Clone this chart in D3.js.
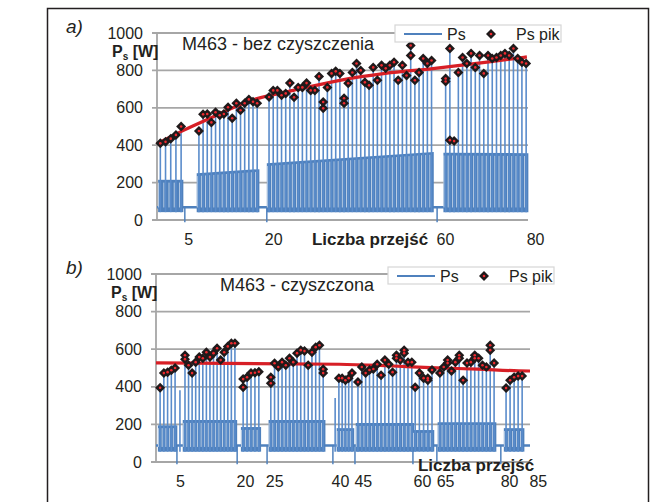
<!DOCTYPE html>
<html>
<head>
<meta charset="utf-8">
<script src="https://cdn.jsdelivr.net/npm/d3@7"></script>
<style>
  body { margin: 0; background: #fff; }
  text { font-family: "Liberation Sans", Arial, sans-serif; fill: #231f20; }
</style>
</head>
<body>
<svg id="chart" width="656" height="502"></svg>
<script>
// time axis runs 0..100 (share of the recording), power in W

// ---- a) M463 - bez czyszczenia ----
var aSegStart = [0.9, 11.3, 30.2, 77.8];
var aSegEnd = [6.5, 27.0, 74.0, 99.5];
var aPlateau = [[215, 215], [250, 272], [304, 364], [360, 357]];
var aPeaks = [
  [410, 418, 435, 455, 500],
  [476, 565, 567, 522, 576, 560, 567, 603, 544, 624, 587, 624, 645, 632, 624],
  [658, 693, 693, 667, 677, 732, 656, 709, 709, 732, 693, 693, 768, [631, 597], 709, 784, 795, 784,
   [651, 624], 731, 789, 837, 800, 736, 720, 816, 747, 827, 811, 827, 844, 747, 827, 773, [933, 880], 747, 789, 864, 837, 853],
  [[757, 741], [917, 427], 422, 789, 869, 837, 891, 816, 880, 784, 880, 864, 869, 880, 891, 880, 917, 864, 843, 837]
];
var aLone = [];
var aDrops = [7.5, 29.6, 75.5];
var aTrendT = [0, 7, 14.3, 25.1, 36.7, 49.3, 61.5, 74.9, 88.4, 99.7];
var aTrendV = [408, 478, 544, 638, 693, 747, 784, 811, 843, 872];
var aBase = 68, aFloor = 42;
var aTickPos = [8.4, 31.3, 77.6, 101.9];
var aTickLab = ["5", "20", "60", "80"];

// ---- b) M463 - czyszczona ----
var bSegStart = [1.1, 7.75, 23.3, 30.7, 48.9, 54.0, 69.3, 75.9, 93.6];
var bSegEnd = [5.1, 21.1, 27.5, 44.7, 52.4, 68.4, 73.8, 90.4, 97.9];
var bPlateau = [[195, 195], [223, 223], [186, 186], [223, 223], [180, 180], [207, 207], [170, 170], [212, 212], [180, 180]];
var bPeaks = [
  [395, 473, 478, 488, 500],
  [[568, 547], 515, 473, 531, 558, 552, 584, 558, 579, 605, 542, 584, 615, 632, 632],
  [[441, 398], 451, 473, 475, 480],
  [[451, 419], 525, 505, 531, 515, 552, 531, 579, 595, 590, 515, 584, 611, 621, [494, 473]],
  [446, 446, 435, 446, 473],
  [425, 505, 473, 489, 495, 520, 462, 542, 520, 478, [568, 552], 542, [595, 579], 531, 531],
  [398, 473, 446, [446, 435], 489],
  [473, 505, [542, 526], 484, 531, [568, 552], 435, 526, 531, [568, 552], 552, 515, 505, [621, 595], 526],
  [393, 435, 451, 457, 457]
];
var bLone = [[6.4, 382], [47.9, 340]];
var bDrops = [5.6, 21.7, 29.7, 47.3, 53.2, 68.7, 75.1, 92.2];
var bTrendT = [0, 49, 62, 75, 86, 97, 100];
var bTrendV = [527, 520, 512, 501, 494, 485, 484];
var bBase = 88, bFloor = 55;
var bTickPos = [6.4, 23.8, 31.6, 49.2, 55.3, 71.1, 77.3, 94.4, 102.1];
var bTickLab = ["5", "20", "25", "40", "45", "60", "65", "80", "85"];

var yTicks = [0, 200, 400, 600, 800, 1000];

var blue = "#4f81bd", red = "#d71f26", grid = "#a6a6a6";

var svg = d3.select("#chart");

// outer frame
svg.append("rect")
  .attr("x", 47.5).attr("y", 8.5)
  .attr("width", 601).attr("height", 520)
  .attr("fill", "none").attr("stroke", "#231f20").attr("stroke-width", 1.5);

function drawPanel(p) {
  var x = d3.scaleLinear().domain([0, 100]).range([p.left, p.right]);
  var y = d3.scaleLinear().domain([0, 1000]).range([p.bottom, p.top]);
  var g = svg.append("g");

  // grid lines + y labels
  g.selectAll(".grid").data(yTicks).enter().append("line")
    .attr("x1", p.left - 5).attr("x2", p.right)
    .attr("y1", function(d) { return y(d); }).attr("y2", function(d) { return y(d); })
    .attr("stroke", grid).attr("stroke-width", 1.8);
  g.append("line")
    .attr("x1", p.left).attr("x2", p.left)
    .attr("y1", y(0)).attr("y2", y(1000))
    .attr("stroke", grid).attr("stroke-width", 1.8);
  g.selectAll(".ylab").data(yTicks).enter().append("text")
    .attr("x", p.left - 14).attr("y", function(d) { return y(d) + 5.5; })
    .attr("text-anchor", "end").attr("font-size", 16)
    .text(function(d) { return d; });

  // baseline of the signal
  g.append("path")
    .datum([0, 100])
    .attr("d", d3.line().x(function(d) { return x(d); }).y(y(p.base)))
    .attr("stroke", blue).attr("stroke-width", 2.5).attr("fill", "none");

  // plateau blocks
  var area = d3.area()
    .x(function(d) { return x(d[0]); })
    .y0(y(p.floor))
    .y1(function(d) { return y(d[1]); });
  p.segStart.forEach(function(s, i) {
    var e = p.segEnd[i], pl = p.plateau[i];
    g.append("path")
      .datum([[s - 0.6, pl[0]], [e + 0.6, pl[1]]])
      .attr("d", area)
      .attr("fill", blue);
  });

  // drops to zero between blocks
  g.selectAll(".drop").data(p.drops).enter().append("line")
    .attr("x1", function(d) { return x(d); }).attr("x2", function(d) { return x(d); })
    .attr("y1", y(p.base)).attr("y2", y(-12))
    .attr("stroke", blue).attr("stroke-width", 1.5);

  // pulses
  var pulses = [];
  p.segStart.forEach(function(s, i) {
    var e = p.segEnd[i], pk = p.peaks[i], n = pk.length, pl = p.plateau[i];
    pk.forEach(function(v, j) {
      var vals = [].concat(v), f = j / (n - 1);
      pulses.push({ t: s + (e - s) * f, vals: vals, top: d3.max(vals),
                    plat: pl[0] + (pl[1] - pl[0]) * f });
    });
  });
  p.lone.forEach(function(d) { pulses.push({ t: d[0], vals: [], top: d[1], plat: 0 }); });

  // thin dips inside the blocks, next to each pulse
  g.selectAll(".slit").data(pulses.filter(function(d) { return d.plat > 0; })).enter().append("line")
    .attr("x1", function(d) { return x(d.t) - 1.7; }).attr("x2", function(d) { return x(d.t) - 1.7; })
    .attr("y1", y(p.floor + 25)).attr("y2", function(d) { return y(d.plat - 15); })
    .attr("stroke", "#fff").attr("stroke-width", 0.8).attr("opacity", 0.75);

  g.selectAll(".pulse").data(pulses).enter().append("line")
    .attr("x1", function(d) { return x(d.t); }).attr("x2", function(d) { return x(d.t); })
    .attr("y1", y(p.floor)).attr("y2", function(d) { return y(d.top); })
    .attr("stroke", "#5a8ccb").attr("stroke-width", 1.6);

  // trend line
  var trend = p.trendT.map(function(t, i) { return [t, p.trendV[i]]; });
  g.append("path")
    .datum(trend)
    .attr("d", d3.line().x(function(d) { return x(d[0]); }).y(function(d) { return y(d[1]); }).curve(d3.curveMonotoneX))
    .attr("fill", "none").attr("stroke", red).attr("stroke-width", 3.2);

  // peak markers
  var marks = [];
  pulses.forEach(function(d) { d.vals.forEach(function(v) { marks.push([d.t, v]); }); });
  var sq = d3.symbol().type(d3.symbolSquare).size(50);
  g.selectAll(".mk").data(marks).enter().append("path")
    .attr("d", sq)
    .attr("transform", function(d) { return "translate(" + x(d[0]) + "," + y(d[1]) + ") rotate(45)"; })
    .attr("fill", "#1f1a1b");
  g.selectAll(".mkc").data(marks).enter().append("circle")
    .attr("cx", function(d) { return x(d[0]); }).attr("cy", function(d) { return y(d[1]); })
    .attr("r", 1.3).attr("fill", "#ee2a2f");

  // x labels
  var xAxis = d3.axisBottom(x).tickValues(p.tickPos)
    .tickFormat(function(d, i) { return p.tickLab[i]; })
    .tickSize(0).tickPadding(14);
  var ax = g.append("g").attr("transform", "translate(0," + y(0) + ")").call(xAxis);
  ax.select(".domain").remove();
  ax.selectAll("text").attr("font-size", 16).attr("fill", "#231f20")
    .style("font-family", "'Liberation Sans', Arial, sans-serif");

  g.append("text")
    .attr("x", p.xTitle[0]).attr("y", p.xTitle[1])
    .attr("text-anchor", "middle").attr("font-size", 17).attr("font-weight", "bold")
    .text("Liczba przejść");

  // y title
  var yt = g.append("text").attr("x", p.left - 45).attr("y", p.top + 24)
    .attr("font-size", 16).attr("font-weight", "bold");
  yt.append("tspan").text("P");
  yt.append("tspan").attr("font-size", 10).attr("dy", 3).text("s");
  yt.append("tspan").attr("dy", -3).text(" [W]");

  // panel letter and title
  g.append("text").attr("x", 66).attr("y", p.top)
    .attr("font-size", 19).attr("font-style", "italic").text(p.letter);
  g.append("text").attr("x", p.titleX).attr("y", p.top + 17)
    .attr("font-size", 18).text(p.title);

  // legend
  var lg = g.append("g").attr("transform", "translate(" + p.legend[0] + "," + p.legend[1] + ")");
  lg.append("rect").attr("x", 0).attr("y", 0).attr("width", 166).attr("height", 17)
    .attr("fill", "#fff").attr("stroke", "#d6d6d6").attr("stroke-width", 1.2);
  lg.append("line").attr("x1", 9).attr("x2", 47).attr("y1", 9).attr("y2", 9)
    .attr("stroke", blue).attr("stroke-width", 2);
  lg.append("text").attr("x", 52).attr("y", 15).attr("font-size", 16).text("Ps");
  lg.append("path").attr("d", sq).attr("transform", "translate(96,9) rotate(45)").attr("fill", "#1f1a1b");
  lg.append("circle").attr("cx", 96).attr("cy", 9).attr("r", 1.3).attr("fill", "#ee2a2f");
  lg.append("text").attr("x", 121).attr("y", 15).attr("font-size", 16).text("Ps pik");
}

drawPanel({
  left: 157, right: 528, top: 33, bottom: 220,
  segStart: aSegStart, segEnd: aSegEnd, plateau: aPlateau, peaks: aPeaks, lone: aLone,
  drops: aDrops, trendT: aTrendT, trendV: aTrendV, base: aBase, floor: aFloor,
  tickPos: aTickPos, tickLab: aTickLab, xTitle: [370, 245],
  letter: "a)", title: "M463 - bez czyszczenia", titleX: 182, legend: [395, 25]
});

drawPanel({
  left: 156, right: 530, top: 274, bottom: 462,
  segStart: bSegStart, segEnd: bSegEnd, plateau: bPlateau, peaks: bPeaks, lone: bLone,
  drops: bDrops, trendT: bTrendT, trendV: bTrendV, base: bBase, floor: bFloor,
  tickPos: bTickPos, tickLab: bTickLab, xTitle: [476, 471],
  letter: "b)", title: "M463 - czyszczona", titleX: 220, legend: [388, 267]
});
</script>
</body>
</html>
